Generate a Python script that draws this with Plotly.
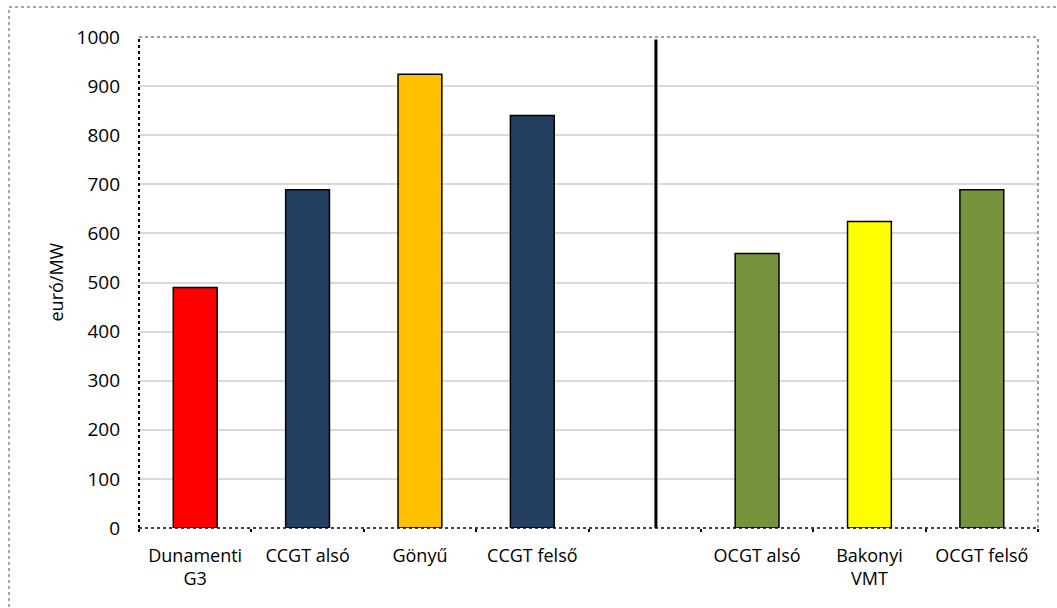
import plotly.graph_objects as go

categories = ["Dunamenti<br>G3", "CCGT alsó", "Gönyű", "CCGT felső", " ", "OCGT alsó", "Bakonyi<br>VMT", "OCGT felső"]
values = [490, 689, 924, 840, None, 559, 624, 689]
colors = ["#FF0000", "#243F60", "#FFC000", "#243F60", "#FFFFFF", "#77933C", "#FFFF00", "#77933C"]
y_ticks = list(range(0, 1001, 100))
y_title = "euró/MW"
divider_pos = 4.1  # separator between the two groups (category-axis units)

fig = go.Figure()
fig.add_trace(go.Bar(
    x=categories, y=values,
    marker=dict(color=colors, line=dict(color="#000000", width=1.5)),
    width=0.39,
))

W, H = 1057, 608
L, R, T, B = 139, 19, 37, 80
pw, ph = W - L - R, H - T - B

def px(x):
    return (x - L) / pw

def py(y):
    return (H - B - y) / ph

FONT = "Open Sans, Noto Sans, sans-serif"

fig.update_layout(
    width=W, height=H,
    margin=dict(l=L, r=R, t=T, b=B),
    paper_bgcolor="white", plot_bgcolor="white",
    showlegend=False,
    font=dict(family=FONT, size=18, color="#000000"),
    xaxis=dict(
        type="category", categoryorder="array", categoryarray=categories,
        range=[-0.5, len(categories) - 0.5],
        showgrid=False, zeroline=False, showline=False,
        ticks="outside", tickson="boundaries", ticklen=3, tickcolor="#000000", tickwidth=2,
        tickfont=dict(size=18),
        ticklabelstandoff=15,
    ),
    yaxis=dict(
        range=[0, 1000], tickvals=y_ticks,
        showgrid=True, gridcolor="#D9D9D9", gridwidth=1.5,
        zeroline=False, showline=False, ticks="",
        tickfont=dict(size=19),
        ticklabelstandoff=18,
    ),
    annotations=[
        dict(text=y_title, xref="paper", yref="paper", x=px(55), y=0.5,
             xanchor="center", yanchor="middle", textangle=-90, showarrow=False,
             font=dict(size=18, family=FONT, color="#000000")),
    ],
    shapes=[
        # outer chart border
        dict(type="rect", xref="paper", yref="paper", x0=px(9), x1=px(1070), y0=py(7), y1=py(620),
             line=dict(color="#8C8C8C", width=1.5, dash="dot"), layer="below"),
        # plot area border top/right
        dict(type="line", xref="paper", yref="paper", x0=0, x1=1, y0=1, y1=1,
             line=dict(color="#7F7F7F", width=1.5, dash="dot")),
        dict(type="line", xref="paper", yref="paper", x0=1, x1=1, y0=0, y1=1,
             line=dict(color="#7F7F7F", width=1.5, dash="dot")),
        # left and bottom axes
        dict(type="line", xref="paper", yref="paper", x0=0, x1=0, y0=0, y1=1,
             line=dict(color="#000000", width=2, dash="dot")),
        dict(type="line", xref="paper", yref="paper", x0=0, x1=1, y0=0, y1=0,
             line=dict(color="#000000", width=1.5, dash="dot")),
        # group divider
        dict(type="line", xref="x", yref="paper", x0=divider_pos, x1=divider_pos, y0=0, y1=0.995,
             line=dict(color="#000000", width=3)),
    ],
)

fig.write_html("out.html")
